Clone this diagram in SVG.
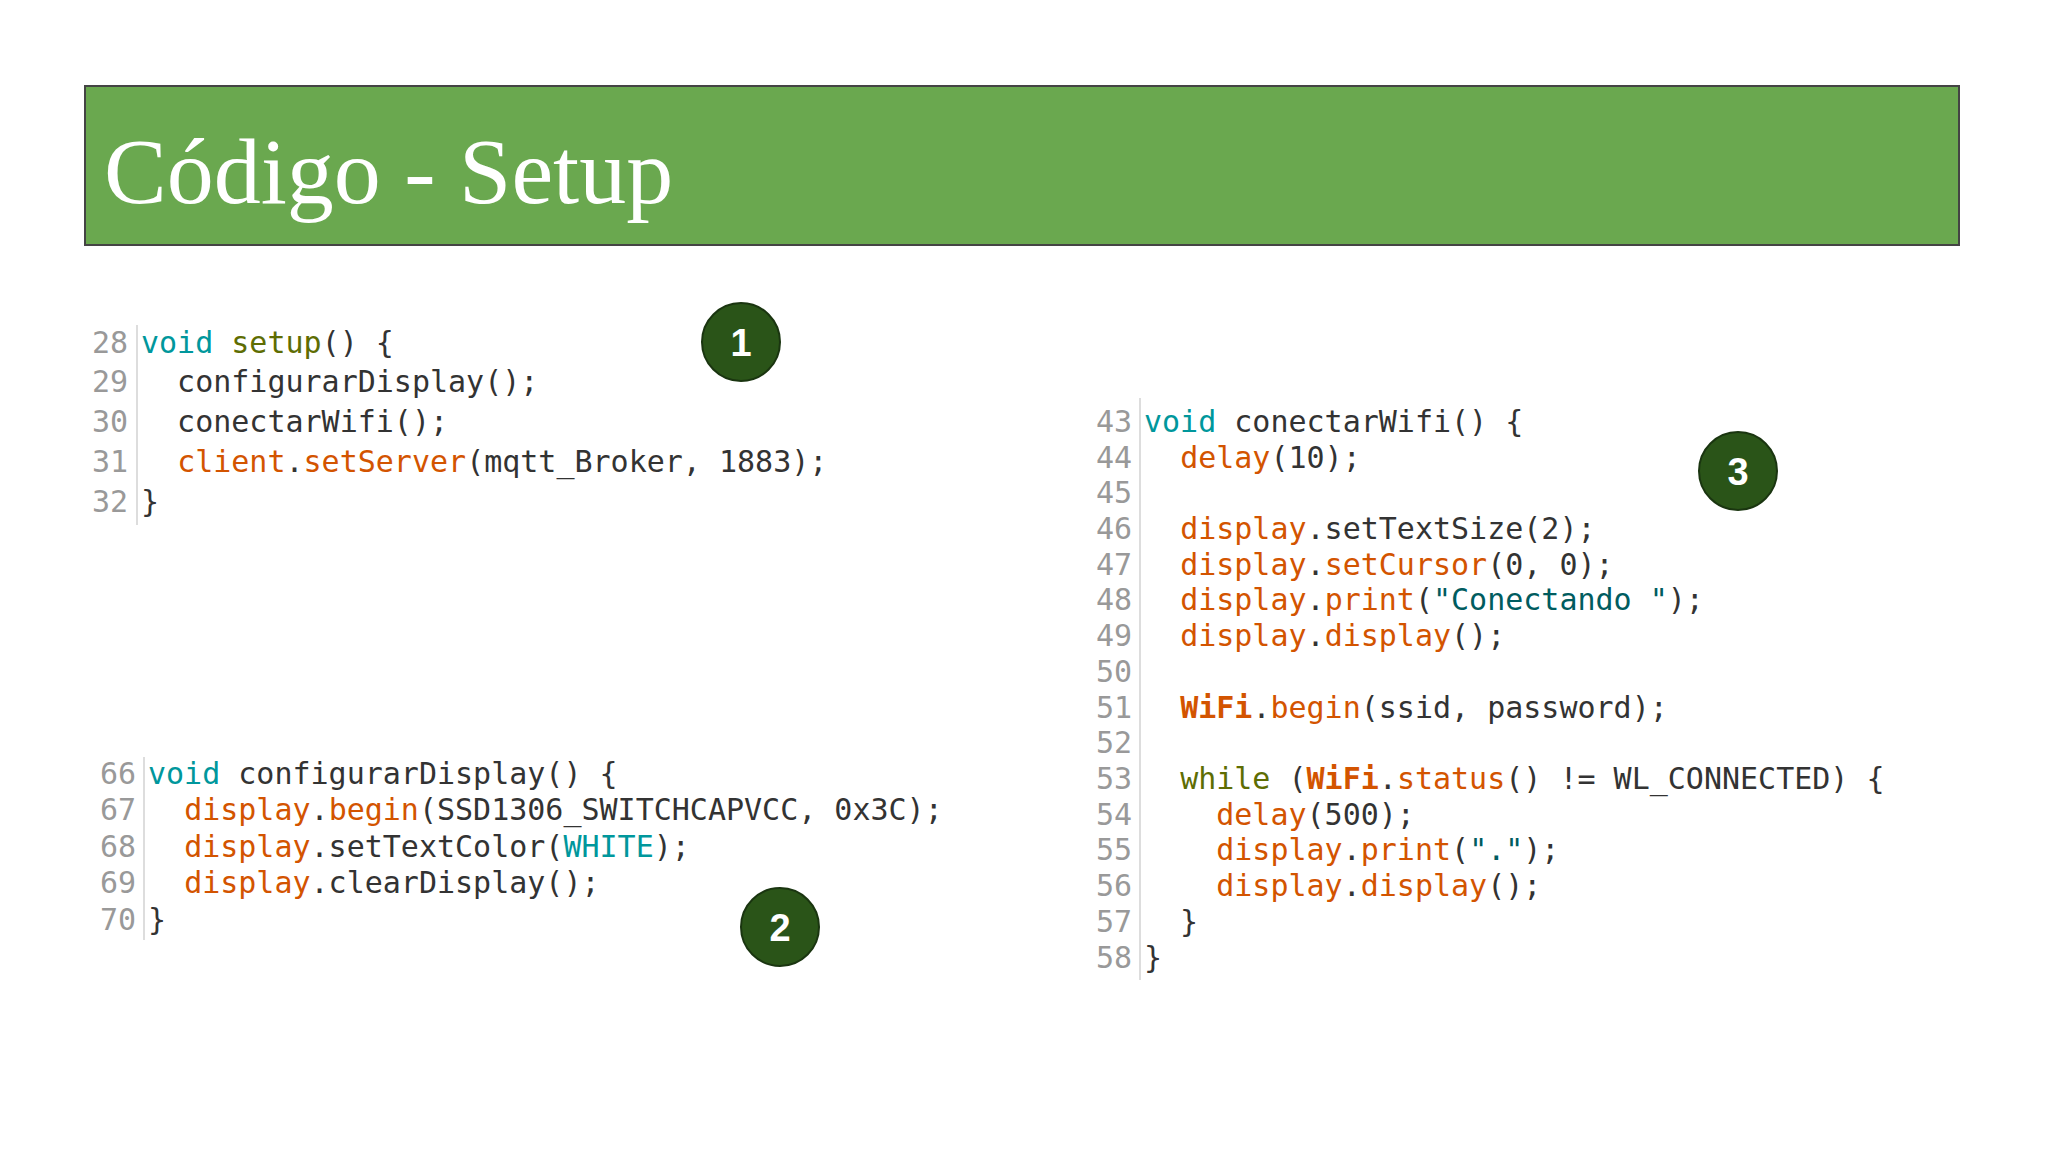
<svg xmlns="http://www.w3.org/2000/svg" width="2048" height="1152" viewBox="0 0 2048 1152">
<style>
.c{font-family:"DejaVu Sans Mono",monospace;font-size:30px;fill:#333;white-space:pre}
.n{font-family:"DejaVu Sans Mono",monospace;font-size:30px;fill:#999;text-anchor:end}
.k{fill:#00979c}.o{fill:#5e6d03}.f{fill:#d35400}.s{fill:#005c5f}.b{fill:#d35400;font-weight:bold}
.sep{stroke:#ddd;stroke-width:2}
.bub circle{fill:#2a5418;stroke:#1a3510;stroke-width:2}
.bub text{font-family:"Liberation Sans",Arial,sans-serif;font-weight:bold;font-size:38px;fill:#fff;text-anchor:middle}
</style>
<rect width="2048" height="1152" fill="#fff"/>
<g id="title"><rect x="85" y="86" width="1874" height="159" fill="#6aa84f" stroke="#444" stroke-width="2"/>
<text x="104" y="203" font-family="Liberation Serif,serif" font-size="94" fill="#fff">Código - Setup</text></g>
<g id="code1">
<line class="sep" x1="137" y1="325" x2="137" y2="525"/>
<g class="n"><text x="128" y="353">28</text><text x="128" y="392">29</text><text x="128" y="432">30</text><text x="128" y="472">31</text><text x="128" y="512">32</text></g>
<text class="c" x="141" y="353" xml:space="preserve"><tspan class="k">void</tspan> <tspan class="o">setup</tspan>() {</text>
<text class="c" x="141" y="392" xml:space="preserve">  configurarDisplay();</text>
<text class="c" x="141" y="432" xml:space="preserve">  conectarWifi();</text>
<text class="c" x="141" y="472" xml:space="preserve">  <tspan class="f">client</tspan>.<tspan class="f">setServer</tspan>(mqtt_Broker, 1883);</text>
<text class="c" x="141" y="512" xml:space="preserve">}</text>
</g>
<g id="code2">
<line class="sep" x1="144" y1="757" x2="144" y2="940"/>
<g class="n"><text x="136" y="784">66</text><text x="136" y="820">67</text><text x="136" y="857">68</text><text x="136" y="893">69</text><text x="136" y="930">70</text></g>
<text class="c" x="148" y="784" xml:space="preserve"><tspan class="k">void</tspan> configurarDisplay() {</text>
<text class="c" x="148" y="820" xml:space="preserve">  <tspan class="f">display</tspan>.<tspan class="f">begin</tspan>(SSD1306_SWITCHCAPVCC, 0x3C);</text>
<text class="c" x="148" y="857" xml:space="preserve">  <tspan class="f">display</tspan>.setTextColor(<tspan class="k">WHITE</tspan>);</text>
<text class="c" x="148" y="893" xml:space="preserve">  <tspan class="f">display</tspan>.clearDisplay();</text>
<text class="c" x="148" y="930" xml:space="preserve">}</text>
</g>
<g id="code3">
<line class="sep" x1="1140" y1="398" x2="1140" y2="980"/>
<g class="n">
<text x="1132" y="432">43</text><text x="1132" y="468">44</text><text x="1132" y="503">45</text><text x="1132" y="539">46</text><text x="1132" y="575">47</text><text x="1132" y="610">48</text><text x="1132" y="646">49</text><text x="1132" y="682">50</text><text x="1132" y="718">51</text><text x="1132" y="753">52</text><text x="1132" y="789">53</text><text x="1132" y="825">54</text><text x="1132" y="860">55</text><text x="1132" y="896">56</text><text x="1132" y="932">57</text><text x="1132" y="968">58</text></g>
<text class="c" x="1144" y="432" xml:space="preserve"><tspan class="k">void</tspan> conectarWifi() {</text>
<text class="c" x="1144" y="468" xml:space="preserve">  <tspan class="f">delay</tspan>(10);</text>
<text class="c" x="1144" y="539" xml:space="preserve">  <tspan class="f">display</tspan>.setTextSize(2);</text>
<text class="c" x="1144" y="575" xml:space="preserve">  <tspan class="f">display</tspan>.<tspan class="f">setCursor</tspan>(0, 0);</text>
<text class="c" x="1144" y="610" xml:space="preserve">  <tspan class="f">display</tspan>.<tspan class="f">print</tspan>(<tspan class="s">"Conectando "</tspan>);</text>
<text class="c" x="1144" y="646" xml:space="preserve">  <tspan class="f">display</tspan>.<tspan class="f">display</tspan>();</text>
<text class="c" x="1144" y="718" xml:space="preserve">  <tspan class="b">WiFi</tspan>.<tspan class="f">begin</tspan>(ssid, password);</text>
<text class="c" x="1144" y="789" xml:space="preserve">  <tspan class="o">while</tspan> (<tspan class="b">WiFi</tspan>.<tspan class="f">status</tspan>() != WL_CONNECTED) {</text>
<text class="c" x="1144" y="825" xml:space="preserve">    <tspan class="f">delay</tspan>(500);</text>
<text class="c" x="1144" y="860" xml:space="preserve">    <tspan class="f">display</tspan>.<tspan class="f">print</tspan>(<tspan class="s">"."</tspan>);</text>
<text class="c" x="1144" y="896" xml:space="preserve">    <tspan class="f">display</tspan>.<tspan class="f">display</tspan>();</text>
<text class="c" x="1144" y="932" xml:space="preserve">  }</text>
<text class="c" x="1144" y="968" xml:space="preserve">}</text>
</g>
<g id="badge1" class="bub"><circle cx="741" cy="342" r="39"/><text x="741" y="356">1</text></g>
<g id="badge2" class="bub"><circle cx="780" cy="927" r="39"/><text x="780" y="941">2</text></g>
<g id="badge3" class="bub"><circle cx="1738" cy="471" r="39"/><text x="1738" y="485">3</text></g>
</svg>
